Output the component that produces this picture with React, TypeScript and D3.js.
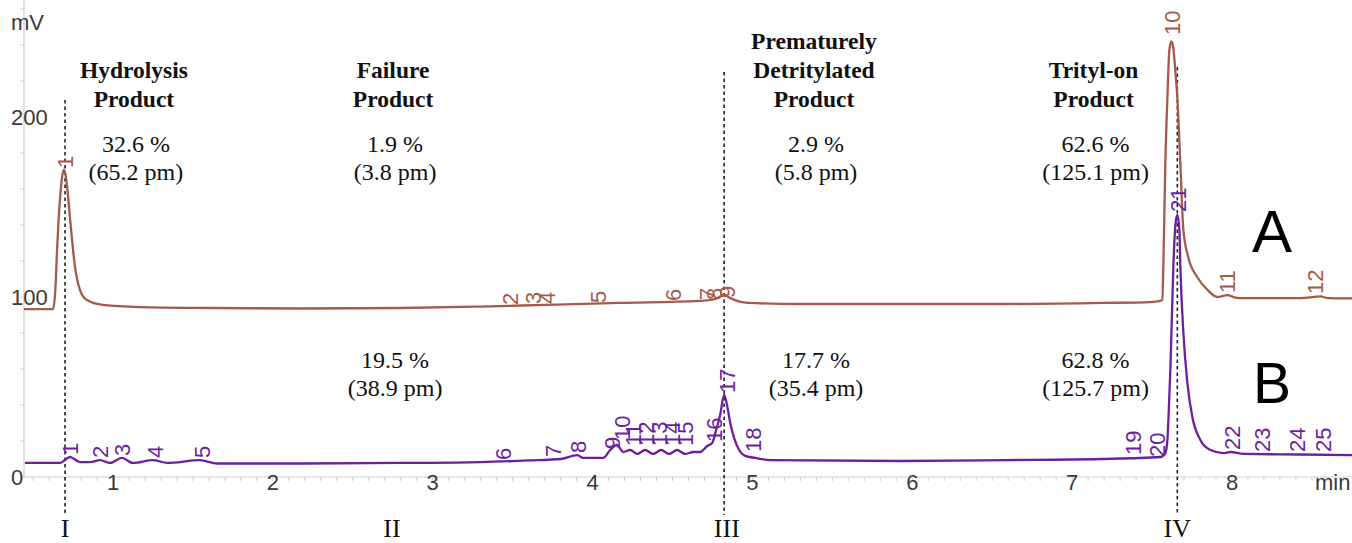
import React from 'react';
import * as d3 from 'd3';

// ---- Data (time in min, signal in mV) ----
const TRACE_A: [number, number][] = [
  [0.443, 93.3], [0.625, 93.3], [0.640, 105], [0.650, 126], [0.668, 154], [0.684, 168],
  [0.693, 170.6], [0.705, 167], [0.718, 157], [0.731, 144], [0.762, 117], [0.793, 104],
  [0.837, 98.3], [0.937, 95.6], [1.169, 94.4], [1.60, 93.9], [2.17, 93.6], [2.80, 93.9],
  [3.30, 94.7], [3.70, 95.6], [4.17, 96.7], [4.67, 97.8], [4.77, 98.9], [4.823, 101.1],
  [4.86, 99.5], [4.89, 98.3], [4.97, 96.7], [5.30, 96.1], [6.00, 96.1], [6.55, 96.1],
  [7.20, 96.7], [7.49, 97.2], [7.55, 97.8], [7.564, 98.5], [7.571, 118.9], [7.583, 174.4],
  [7.596, 211], [7.608, 237], [7.620, 242], [7.632, 239], [7.645, 226], [7.658, 211],
  [7.677, 174], [7.696, 137], [7.727, 122], [7.783, 111], [7.846, 104], [7.909, 100],
  [7.971, 101], [8.02, 99.7], [8.071, 99.4], [8.43, 99.4], [8.553, 100.3], [8.60, 99.4],
  [8.753, 99.2],
];

const TRACE_B: [number, number][] = [
  [0.449, 7.8], [0.668, 7.8], [0.700, 9.5], [0.731, 11.1], [0.760, 9.8], [0.793, 8.3],
  [0.856, 8.3], [0.919, 9.4], [0.981, 7.8], [1.056, 10.6], [1.125, 7.8], [1.250, 9.4],
  [1.338, 7.8], [1.544, 9.4], [1.651, 7.5], [2.20, 7.5], [2.80, 7.8], [3.30, 8.3],
  [3.60, 9.2], [3.80, 10], [3.904, 12.2], [3.941, 10.6], [4.066, 10.6], [4.110, 15],
  [4.154, 17.8], [4.191, 13.9], [4.235, 15], [4.279, 12.8], [4.329, 15], [4.379, 12.8],
  [4.429, 15], [4.479, 12.8], [4.529, 15], [4.579, 12.8], [4.630, 13.9], [4.673, 13.9],
  [4.717, 17.2], [4.748, 18.9], [4.773, 26.1], [4.798, 34.4], [4.823, 45.6], [4.841, 40],
  [4.860, 30.6], [4.885, 21.7], [4.917, 15], [4.955, 11.7], [5.018, 10.6], [5.111, 9.4],
  [5.925, 8.9], [6.60, 9.4], [7.176, 10], [7.552, 11.1], [7.583, 13.3], [7.596, 20.6],
  [7.602, 31.7], [7.615, 61], [7.633, 116.7], [7.646, 140], [7.658, 145.6], [7.671, 137],
  [7.677, 116.7], [7.696, 80], [7.721, 52.2], [7.752, 33.3], [7.802, 20.6], [7.865, 15],
  [7.946, 13.3], [7.990, 13.9], [8.071, 12.8], [8.428, 12.5], [8.753, 12.2],
];

// peak id, time, mV at label base
const PEAKS_A: [string, number, number][] = [
  ['1', 0.700, 171.7], ['2', 3.483, 95.6], ['3', 3.627, 96.1], ['4', 3.715, 96.1],
  ['5', 4.034, 96.7], ['6', 4.503, 97.8], ['7', 4.716, 98.3], ['8', 4.760, 98.3],
  ['9', 4.841, 99.4], ['10', 7.625, 245.6], ['11', 7.969, 102.2], ['12', 8.519, 101.7],
];

const PEAKS_B: [string, number, number][] = [
  ['1', 0.731, 12.2], ['2', 0.919, 10.6], ['3', 1.056, 11.7], ['4', 1.263, 10.6],
  ['5', 1.557, 10.6], ['6', 3.440, 9.4], ['7', 3.752, 11.1], ['8', 3.909, 13.3],
  ['9', 4.122, 15.6], ['10', 4.184, 20.6], ['11', 4.253, 17.2], ['12', 4.334, 17.2],
  ['13', 4.416, 17.2], ['14', 4.497, 17.2], ['15', 4.578, 17.2], ['16', 4.759, 19.4],
  ['17', 4.841, 46.7], ['18', 5.004, 13.9], ['19', 7.381, 12.2], ['20', 7.531, 11.1],
  ['21', 7.662, 147.2], ['22', 8.000, 15], ['23', 8.187, 13.9], ['24', 8.406, 13.9],
  ['25', 8.569, 13.9],
];

const X_TICKS = [1, 2, 3, 4, 5, 6, 7, 8];
const Y_TICKS = [0, 100, 200];

const REGION_NAMES: string[][] = [
  ['Hydrolysis', 'Product'],
  ['Failure', 'Product'],
  ['Prematurely', 'Detritylated', 'Product'],
  ['Trityl-on', 'Product'],
];
const PCT_A = ['32.6 %', '1.9 %', '2.9 %', '62.6 %'];
const PMOL_A = ['(65.2 pm)', '(3.8 pm)', '(5.8 pm)', '(125.1 pm)'];
const PCT_B = ['', '19.5 %', '17.7 %', '62.8 %'];
const PMOL_B = ['', '(38.9 pm)', '(35.4 pm)', '(125.7 pm)'];
const ROMAN = ['I', 'II', 'III', 'IV'];

// ---- Layout ----
const W = 1352;
const H = 543;
const REGION_CENTERS = [1.131, 2.752, 5.385, 7.134];
const ROMAN_T = [0.700, 2.745, 4.840, 7.658];
const MARKERS: { t: number; top: number }[] = [
  { t: 0.700, top: 100 },
  { t: 4.823, top: 72 },
  { t: 7.658, top: 67 },
];

const BROWN = '#a65a4a';
const PURPLE = '#6c1f9e';
const AXIS_TEXT = '#3a3a3a';
const AXIS_LINE = '#cfcfcf';
const SANS = '"Liberation Sans", Arial, sans-serif';
const SERIF = '"Liberation Serif", "Times New Roman", serif';

export default function App() {
  const x = d3.scaleLinear().domain([1, 8]).range([113, 1232]);
  const y = d3.scaleLinear().domain([0, 200]).range([477, 117]);
  const xMin = 0.443;

  const line = d3
    .line<[number, number]>()
    .x((d) => x(d[0]))
    .y((d) => y(d[1]))
    .curve(d3.curveMonotoneX);

  const minorX = d3.range(5, 88).map((i) => i / 10);
  const minorY = d3.range(0, 14).map((i) => i * 20);

  const peakLabel = (p: [string, number, number], color: string, key: string) => (
    <text
      key={key}
      transform={`translate(${x(p[1])},${y(p[2])}) rotate(-90)`}
      dy="0.35em"
      textAnchor="start"
      fontFamily={SANS}
      fontSize={22}
      fill={color}
    >
      {p[0]}
    </text>
  );

  return (
    <svg
      width={W}
      height={H}
      style={{ position: 'absolute', left: 0, top: 0, display: 'block', background: '#fff' }}
    >
      <rect width={W} height={H} fill="#fff" />
      {/* axes */}
      <line x1={x(xMin)} x2={x(xMin)} y1={0} y2={y(0)} stroke={AXIS_LINE} strokeWidth={1.2} />
      <line x1={x(xMin)} x2={W} y1={y(0)} y2={y(0)} stroke={AXIS_LINE} strokeWidth={1.2} />
      {minorX.map((t) => (
        <line key={'mx' + t} x1={x(t)} x2={x(t)} y1={y(0)} y2={y(0) + 4} stroke={AXIS_LINE} strokeWidth={1} />
      ))}
      {minorY.map((v) => (
        <line key={'my' + v} x1={x(xMin) - 4} x2={x(xMin)} y1={y(v)} y2={y(v)} stroke={AXIS_LINE} strokeWidth={1} />
      ))}
      {X_TICKS.map((t) => (
        <text key={'xt' + t} x={x(t)} y={490} textAnchor="middle" fontFamily={SANS} fontSize={22} fill={AXIS_TEXT}>
          {t}
        </text>
      ))}
      {Y_TICKS.map((v) => (
        <text key={'yt' + v} x={11} y={y(v)} dy="0.36em" textAnchor="start" fontFamily={SANS} fontSize={22} fill={AXIS_TEXT}>
          {v}
        </text>
      ))}
      <text x={11} y={30} fontFamily={SANS} fontSize={22} fill={AXIS_TEXT}>mV</text>
      <text x={1315} y={490} fontFamily={SANS} fontSize={22} fill={AXIS_TEXT}>min</text>

      {/* dashed markers */}
      {MARKERS.map((m, i) => (
        <line key={'mk' + i} x1={x(m.t)} x2={x(m.t)} y1={m.top} y2={515} stroke="#222" strokeWidth={1.6} strokeDasharray="3.5,3" />
      ))}

      {/* traces */}
      <path d={line(TRACE_A) || ''} fill="none" stroke={BROWN} strokeWidth={2.3} strokeLinejoin="round" />
      <path d={line(TRACE_B) || ''} fill="none" stroke={PURPLE} strokeWidth={2.3} strokeLinejoin="round" />

      {/* peak labels */}
      {PEAKS_A.map((p, i) => peakLabel(p, BROWN, 'pa' + i))}
      {PEAKS_B.map((p, i) => peakLabel(p, PURPLE, 'pb' + i))}

      {/* region titles */}
      {REGION_NAMES.map((lines, i) => (
        <text key={'rn' + i} textAnchor="middle" fontFamily={SERIF} fontSize={23.5} fontWeight="bold" fill="#111">
          {lines.map((s, j) => (
            <tspan key={j} x={x(REGION_CENTERS[i])} y={107 - (lines.length - 1 - j) * 29}>
              {s}
            </tspan>
          ))}
        </text>
      ))}
      {PCT_A.map((s, i) => (
        <text key={'pa' + i} textAnchor="middle" fontFamily={SERIF} fontSize={24} fill="#111">
          <tspan x={x(REGION_CENTERS[i]) + 2} y={152}>{s}</tspan>
          <tspan x={x(REGION_CENTERS[i]) + 2} y={180}>{PMOL_A[i]}</tspan>
        </text>
      ))}
      {PCT_B.map((s, i) =>
        s ? (
          <text key={'pb' + i} textAnchor="middle" fontFamily={SERIF} fontSize={24} fill="#111">
            <tspan x={x(REGION_CENTERS[i]) + 2} y={368}>{s}</tspan>
            <tspan x={x(REGION_CENTERS[i]) + 2} y={396}>{PMOL_B[i]}</tspan>
          </text>
        ) : null
      )}

      {/* trace letters */}
      <text x={1272} y={252} textAnchor="middle" fontFamily={SANS} fontSize={60} fill="#000">A</text>
      <text x={1272} y={403} textAnchor="middle" fontFamily={SANS} fontSize={57} fill="#000">B</text>

      {/* roman numerals */}
      {ROMAN.map((r, i) => (
        <text key={'r' + i} x={x(ROMAN_T[i])} y={537} textAnchor="middle" fontFamily={SERIF} fontSize={26} fill="#111">
          {r}
        </text>
      ))}
    </svg>
  );
}
